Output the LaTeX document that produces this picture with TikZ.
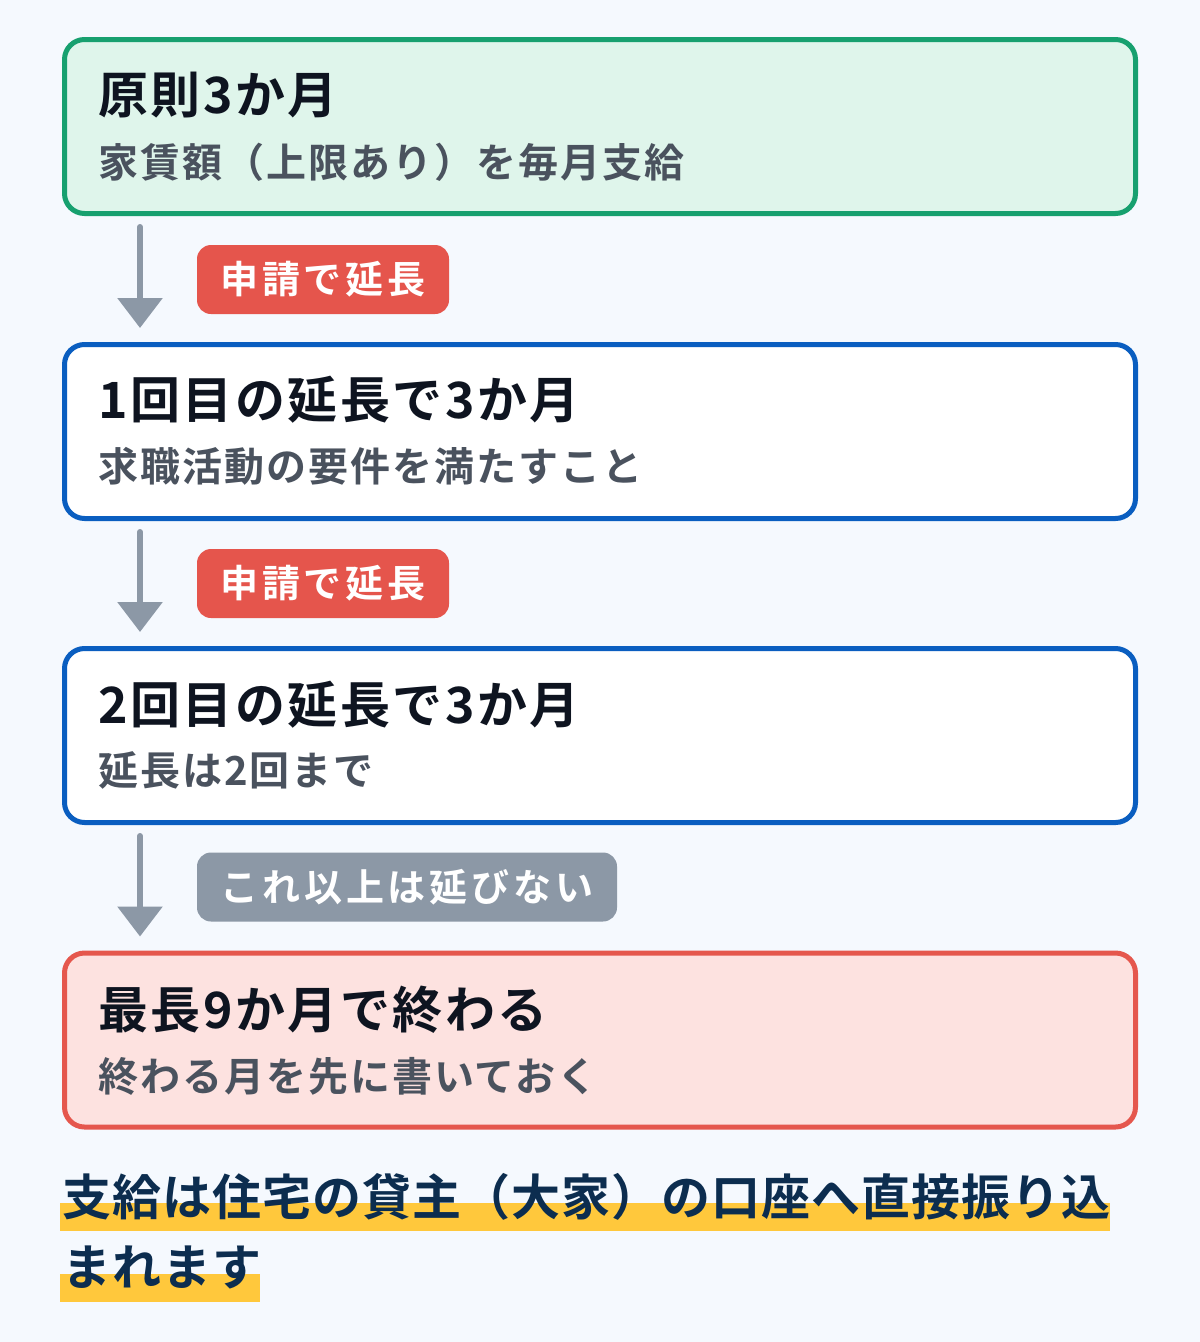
\documentclass[tikz,border=0pt]{standalone}
\usepackage{fontspec}
\setmainfont{Noto Sans CJK JP}[BoldFont={Noto Sans CJK JP Bold}]
\newfontfamily\ftitle{Noto Sans CJK JP Bold}[LetterSpace=5]
\newfontfamily\fsubt{Noto Sans CJK JP Bold}[LetterSpace=5]
\newfontfamily\fpill{Noto Sans CJK JP Bold}[LetterSpace=10]
\newfontfamily\fbot{Noto Sans CJK JP Bold}[LetterSpace=2]
\usetikzlibrary{arrows.meta}
\definecolor{bg}{HTML}{F5F9FE}
\definecolor{gline}{HTML}{17A06F}
\definecolor{gfill}{HTML}{DFF5EB}
\definecolor{bline}{HTML}{0A5EC0}
\definecolor{rline}{HTML}{E5574D}
\definecolor{rfill}{HTML}{FDE2E0}
\definecolor{ttl}{HTML}{0E1420}
\definecolor{sub}{HTML}{4A525E}
\definecolor{arrc}{HTML}{8C98A6}
\definecolor{navy}{HTML}{0C2D4F}
\definecolor{hl}{HTML}{FFC83C}
\definecolor{pillred}{HTML}{E5554C}
\tikzset{
  box/.style={draw, line width=5pt, rounded corners=20pt, minimum width=1071pt, minimum height=174pt, inner sep=0pt},
  ttext/.style={anchor=west, inner sep=0pt, text=ttl, font=\ftitle\fontsize{50}{60}\selectfont},
  stext/.style={anchor=west, inner sep=0pt, text=sub, font=\fsubt\fontsize{40}{48}\selectfont},
  pill/.style={rounded corners=14pt, minimum height=69pt, inner sep=0pt, text=white, font=\fpill\fontsize{38}{46}\selectfont},
  arr/.style={draw=arrc, line width=6pt, line cap=round, -{Triangle[width=44pt,length=30pt]}},
  btext/.style={anchor=west, inner sep=0pt, text=navy, font=\fbot\fontsize{49}{58}\selectfont},
}
\begin{document}
\begin{tikzpicture}[x=1pt,y=-1pt]
\useasboundingbox (0,0) rectangle (1200,1342);
\fill[bg] (0,0) rectangle (1200,1342);

\node[box, draw=gline, fill=gfill] (b1) at (600,126.5) {};
\node[box, draw=bline, fill=white] (b2) at (600,431.5) {};
\node[box, draw=bline, fill=white] (b3) at (600,735.5) {};
\node[box, draw=rline, fill=rfill] (b4) at (600,1040) {};

\node[ttext] (t1) at (98,95) {原則3か月};
\node[stext] (s1) at (98,162) {家賃額（上限あり）を毎月支給};
\node[ttext] (t2) at (98,400) {1回目の延長で3か月};
\node[stext] (s2) at (98,466) {求職活動の要件を満たすこと};
\node[ttext] (t3) at (98,705) {2回目の延長で3か月};
\node[stext] (s3) at (98,770) {延長は2回まで};
\node[ttext] (t4) at (98,1010) {最長9か月で終わる};
\node[stext] (s4) at (98,1076) {終わる月を先に書いておく};

\coordinate (ax) at (140,0);
\draw[arr, shorten <=11pt, shorten >=14pt] (b1.south -| ax) -- (b2.north -| ax);
\draw[arr, shorten <=11pt, shorten >=14pt] (b2.south -| ax) -- (b3.north -| ax);
\draw[arr, shorten <=11pt, shorten >=14pt] (b3.south -| ax) -- (b4.north -| ax);

\node[pill, fill=pillred, minimum width=252pt] (p1) at (323,279.5) {申請で延長};
\node[pill, fill=pillred, minimum width=252pt] (p2) at (323,583.5) {申請で延長};
\node[pill, fill=arrc, minimum width=420pt] (p3) at (407,887) {これ以上は延びない};

\fill[hl] (60,1203) rectangle (1110,1231);
\fill[hl] (60,1274) rectangle (260,1302);
\node[btext] (n1) at (62,1197) {支給は住宅の貸主（大家）の口座へ直接振り込};
\node[btext] (n2) at (62,1267) {まれます};
\end{tikzpicture}
\end{document}
